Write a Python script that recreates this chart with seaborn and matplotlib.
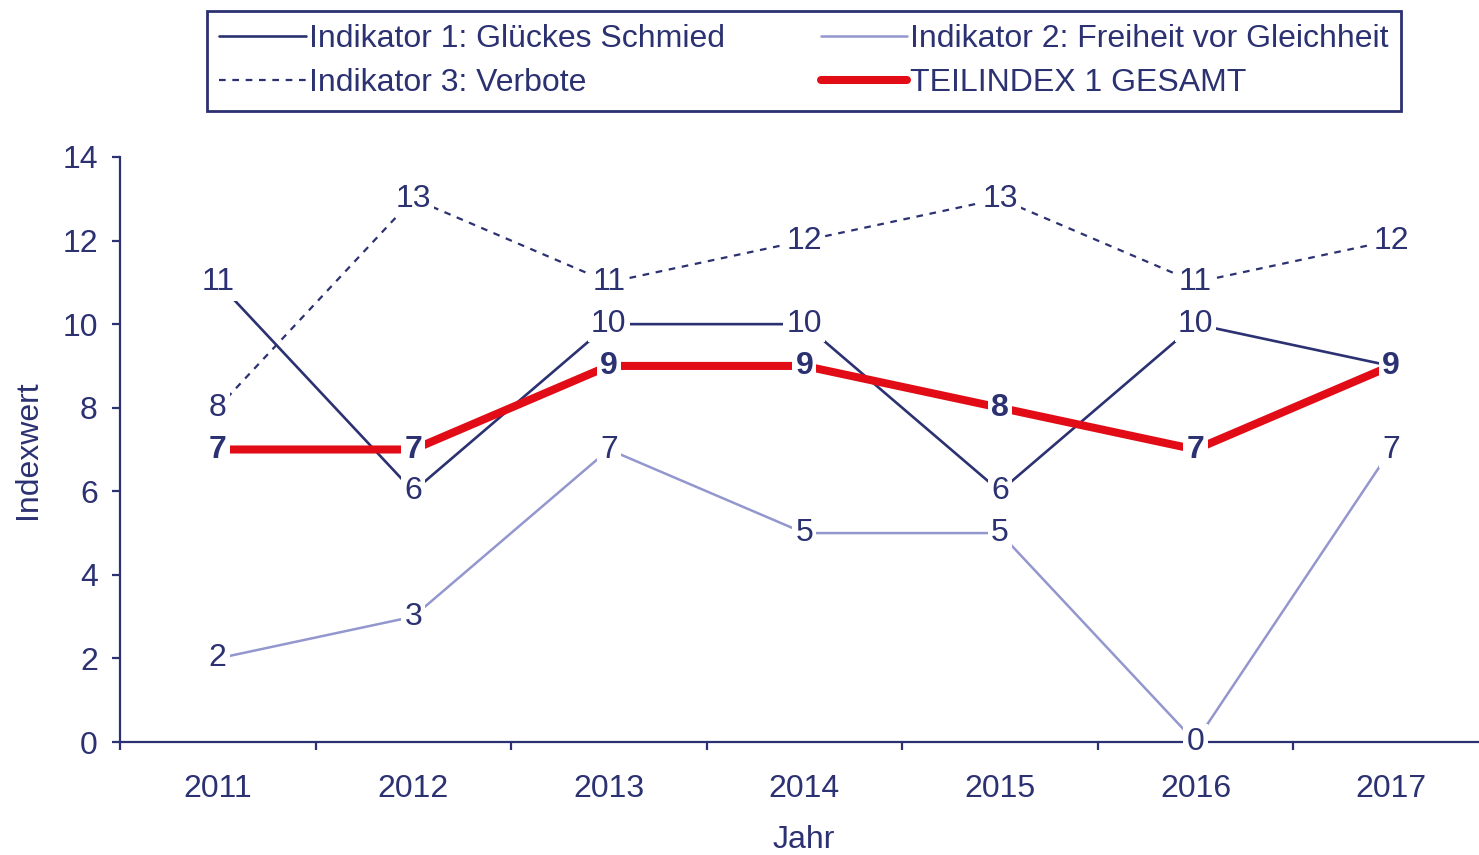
import pandas as pd
import matplotlib.pyplot as plt
import seaborn as sns

# Werte aus dem Diagramm
jahre = ["2011", "2012", "2013", "2014", "2015", "2016", "2017"]
indikator_1 = [11, 6, 10, 10, 6, 10, 9]
indikator_2 = [2, 3, 7, 5, 5, 0, 7]
indikator_3 = [8, 13, 11, 12, 13, 11, 12]
teilindex_1 = [7, 7, 9, 9, 8, 7, 9]

namen = ["Indikator 1: Glückes Schmied", "Indikator 2: Freiheit vor Gleichheit",
         "Indikator 3: Verbote", "TEILINDEX 1 GESAMT"]

navy = "#2b3171"
lila = "#9397cd"
rot = "#e20c17"

sns.set_style("white")
plt.rcParams['font.family'] = ['Liberation Sans', 'DejaVu Sans']

df = pd.DataFrame({"pos": range(len(jahre)), "jahr": jahre,
                   namen[0]: indikator_1, namen[1]: indikator_2,
                   namen[2]: indikator_3, namen[3]: teilindex_1})

fig = plt.figure(figsize=(14.79, 8.55), dpi=100)
ax = fig.add_axes([120 / 1479, 1 - 742 / 855, 1 - 120 / 1479, (742 - 157) / 855])

styles = {
    namen[0]: dict(color=navy, lw=1.9, zorder=3),
    namen[1]: dict(color=lila, lw=1.8, zorder=2),
    namen[2]: dict(color=navy, lw=1.6, zorder=2, dashes=(3, 3)),
    namen[3]: dict(color=rot, lw=5.8, zorder=4),
}

handles = {}
for name in namen:
    st = dict(styles[name])
    dashes = st.pop("dashes", None)
    sns.lineplot(data=df, x="pos", y=name, ax=ax, label=name, **st)
    line = ax.get_lines()[-1]
    if dashes:
        line.set_dashes(dashes)
    handles[name] = line

fs = 23

# Datenbeschriftungen
for name in namen[:3]:
    for i, v in enumerate(df[name]):
        ax.text(i, v, str(v), ha="center", va="center", fontsize=fs, color=navy,
                zorder=6, bbox=dict(boxstyle="square,pad=0.1", fc="white", ec="none"))
for i, v in enumerate(df[namen[3]]):
    ax.text(i, v, str(v), ha="center", va="center", fontsize=fs, color=navy,
            fontweight="bold", zorder=7,
            bbox=dict(boxstyle="square,pad=0.1", fc="white", ec="none"))

ax.set_yticks(range(0, 15, 2))
ax.set_xticks(df["pos"])
ax.set_xticklabels(jahre)
ax.set_xticks([i - 0.5 for i in range(len(jahre))], minor=True)
ax.set_xlim(-0.5, 6.45)
ax.set_ylim(0, 14)

for s in ["top", "right"]:
    ax.spines[s].set_visible(False)
for s in ["left", "bottom"]:
    ax.spines[s].set_color(navy)
    ax.spines[s].set_linewidth(1.6)

ax.tick_params(axis="y", direction="out", length=6, width=1.6, color=navy,
               labelcolor=navy, labelsize=fs, pad=10, left=True)
ax.tick_params(axis="x", which="major", length=0, labelcolor=navy, labelsize=fs, pad=23)
ax.tick_params(axis="x", which="minor", direction="out", length=6, width=1.6,
               color=navy, bottom=True)

ax.set_ylabel("Indexwert", fontsize=fs, color=navy)
ax.yaxis.set_label_coords(-0.057, 0.5)
ax.set_xlabel("Jahr", fontsize=fs, color=navy)
ax.xaxis.set_label_coords((804 - 120) / 1359, -0.142)

ax.get_legend().remove()
order = [namen[0], namen[2], namen[1], namen[3]]
leg = fig.legend([handles[n] for n in order], order, loc="upper center", ncol=2,
                 bbox_to_anchor=(804 / 1479, 1 - 11 / 855), fontsize=fs,
                 frameon=True, fancybox=False, edgecolor=navy, framealpha=1,
                 handlelength=2.7, handletextpad=0.1, columnspacing=3.0,
                 borderpad=0.4, labelspacing=0.45, borderaxespad=0)
leg.get_frame().set_linewidth(2)
for t in leg.get_texts():
    t.set_color(navy)

fig.savefig("out.png", dpi=100)
